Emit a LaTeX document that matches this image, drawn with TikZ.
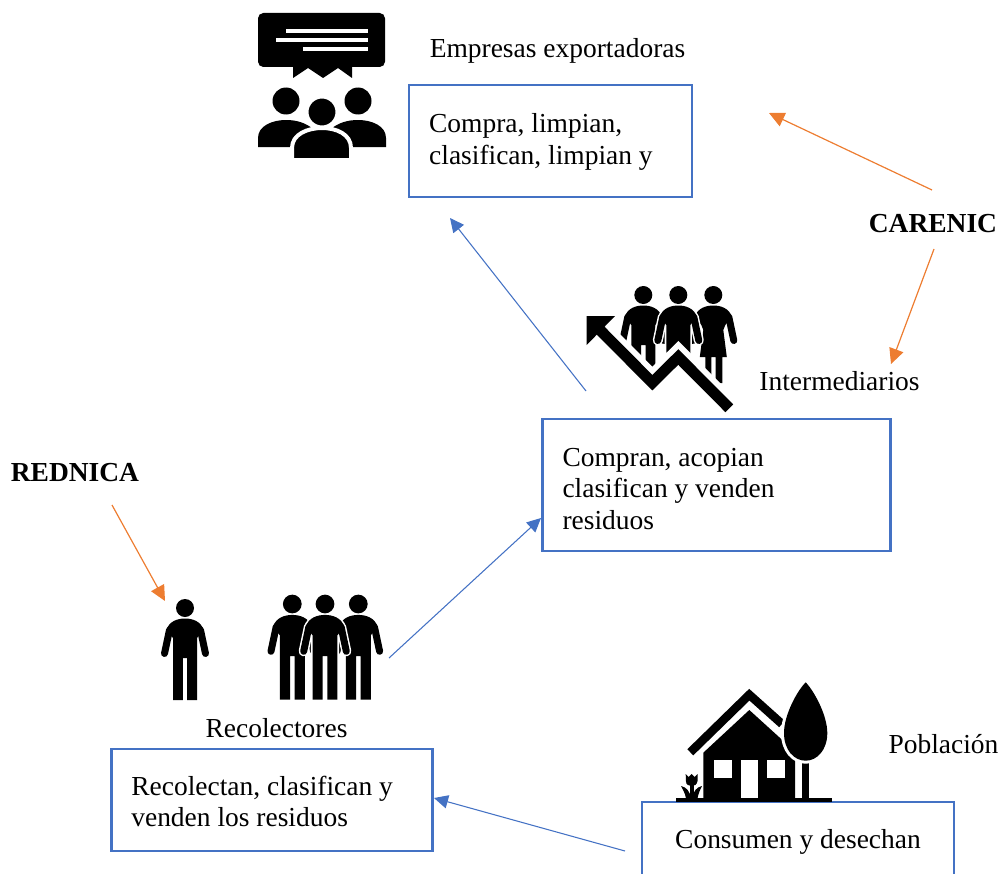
\documentclass[tikz,border=0pt]{standalone}
\usepackage{fontspec}
\setmainfont{Liberation Serif}
\usetikzlibrary{arrows.meta}
\definecolor{boxblue}{HTML}{4472C4}
\definecolor{arrorange}{HTML}{ED7D31}
\newcommand{\manbody}{(-12,92) -- (-12,30) -- (-18.5,22) .. controls (-16,13) and (-7,10.5) .. (0,10.5) .. controls (7,10.5) and (16,13) .. (18.5,22) -- (12,30) -- (12,92) -- (2.2,92) -- (2.2,50) -- (-2.2,50) -- (-2.2,92) -- cycle}
\newcommand{\manarms}{(-15.5,22) -- (-20.5,45.5) (15.5,22) -- (20.5,45.5)}
\newcommand{\womanbody}{(-8,88) -- (-8,62) -- (-13.5,62) -- (-10,35) -- (-12,30) -- (-18.5,22) .. controls (-16,13) and (-7,10.5) .. (0,10.5) .. controls (7,10.5) and (16,13) .. (18.5,22) -- (12,30) -- (10,35) -- (13.5,62) -- (9,62) -- (9,88) -- (2.3,88) -- (2.3,62) -- (-2,62) -- (-2,88) -- cycle}
\newcommand{\treecrown}{(805.7,682.3) .. controls (797,691) and (784,715) .. (784,733) .. controls (784,750) and (794,760.7) .. (805.7,760.7) .. controls (817,760.7) and (827.3,750) .. (827.3,733) .. controls (827.3,715) and (814,691) .. (805.7,682.3) -- cycle}
\newcommand{\zigzag}{(600,330) -- (652.3,382.7) -- (678.3,357) -- (729.3,408.3)}
\newcommand{\topfill}[1]{\rule{0pt}{#1pt}}
\tikzset{
  boxnode/.style={draw=boxblue,line width=1.9pt,align=flush left,inner xsep=15pt,inner ysep=0pt,font=\fontsize{20.6pt}{23.6pt}\selectfont},
  plainlabel/.style={inner sep=0pt,font=\fontsize{20.6pt}{23.6pt}\selectfont},
  boldlabel/.style={inner sep=0pt,font=\fontsize{20.6pt}{23.6pt}\selectfont\bfseries},
  bluearrow/.style={draw=boxblue,line width=0.8pt,-{Triangle[length=10.5pt,width=10pt]}},
  orangearrow/.style={draw=arrorange,line width=0.9pt,-{Triangle[length=11.5pt,width=11pt]}},
  manicon/.pic={
    \draw[white,line width=2.4pt] \manbody;
    \draw[white,line width=7.5pt,line cap=round] \manarms;
    \fill \manbody;
    \draw[line width=5.25pt,line cap=round] \manarms;
    \fill (0,0) circle (9);
  },
  womanicon/.pic={
    \fill \womanbody;
    \draw[line width=5.25pt,line cap=round] \manarms;
    \fill (0,0) circle (9);
  }
}
\begin{document}
\begin{tikzpicture}[x=0.75pt,y=-0.75pt]
  \useasboundingbox (0,0) rectangle (1003,874);

  \node[boxnode,text width=182pt,minimum height=84pt] (emp) at (550.5,141) {\topfill{15.6}Compra, limpian,\\clasifican, limpian y};
  \node[boxnode,text width=231pt,minimum height=99pt] (inter) at (716.5,485) {\topfill{19.3}Compran, acopian\\clasifican y venden\\residuos};
  \node[boxnode,text width=211pt,minimum height=76.5pt] (rec) at (272,800) {\topfill{16.4}Recolectan, clasifican y\\venden los residuos};
  \node[boxnode,text width=204pt,minimum height=55.5pt,align=flush center] (pob) at (798,839) {\topfill{18.6}Consumen y desechan};

  \node[plainlabel] (emplabel) at (557.5,51) {Empresas exportadoras};
  \node[plainlabel] (interlabel) at (839.5,381) {Intermediarios};
  \node[plainlabel] (reclabel) at (276.5,728) {Recolectores};
  \node[plainlabel] (poblabel) at (943.5,744) {Población};
  \node[boldlabel] (care) at (933,224) {CARENIC};
  \node[boldlabel] (red) at (75,473) {REDNICA};

  \coordinate (a1) at (586,391);
  \coordinate (a2) at (450,218);
  \coordinate (b1) at (389,658);
  \coordinate (b2) at (541,518);
  \coordinate (c1) at (625,851);
  \coordinate (c2) at (434,798);
  \coordinate (d1) at (932,190);
  \coordinate (d2) at (769,113);
  \coordinate (e1) at (934,249);
  \coordinate (e2) at (891,364);
  \coordinate (f1) at (112,505);
  \coordinate (f2) at (165,601);
  \draw[bluearrow] (a1) -- (a2);
  \draw[bluearrow] (b1) -- (b2);
  \draw[bluearrow] (c1) -- (c2);
  \draw[orangearrow] (d1) -- (d2);
  \draw[orangearrow] (e1) -- (e2);
  \draw[orangearrow] (f1) -- (f2);

  \fill[rounded corners=4pt] (258,13) rectangle (385,67);
  \fill (293,66) -- (293,78) -- (308,68) -- (323,78) -- (338,68) -- (352,78) -- (352,66) -- cycle;
  \fill[white] (286,29.5) rectangle (368,33);
  \fill[white] (276,38.5) rectangle (368,42);
  \fill[white] (303,47.5) rectangle (368,51);
  \fill (286,101) circle (13.5);
  \fill (358,101) circle (13.5);
  \fill (258,147) -- (258,138) .. controls (258,126) and (272,120) .. (286,120) .. controls (297,120) and (305,123) .. (312,128) -- (312,147) -- cycle;
  \fill (386,147) -- (386,138) .. controls (386,126) and (372,120) .. (358,120) .. controls (347,120) and (339,123) .. (332,128) -- (332,147) -- cycle;
  \filldraw[draw=white,line width=3pt] (322,112) circle (15.5);
  \filldraw[draw=white,line width=3pt] (292,160) -- (292,148) .. controls (292,134) and (308,128) .. (322,128) .. controls (336,128) and (351,134) .. (351,148) -- (351,160) -- cycle;

  \pic at (643.3,295) {manicon};
  \pic at (713.3,295) {womanicon};
  \pic at (678.3,295) {manicon};
  \fill[white] (600,330) -- (652.3,382.7) -- (678.3,357) -- (712,391) -- (712,400) -- (600,400) -- cycle;
  \draw[white,line width=17pt,miter limit=10] \zigzag;
  \draw[line width=8.25pt,miter limit=10] \zigzag;
  \fill (586.7,316) -- (615,316) -- (586.7,345) -- cycle;

  \pic at (185,608) {manicon};
  \pic[scale=1.04] at (292.3,604) {manicon};
  \pic[scale=1.04] at (358.3,604) {manicon};
  \pic[scale=1.04] at (325,604) {manicon};

  \fill (675.7,798.3) rectangle (832.3,802);
  \draw[line width=6.4pt,miter limit=10] (690.3,752.3) -- (749.3,694.7) -- (782,724);
  \fill (703.3,798.3) -- (703.3,752.7) -- (749.3,710) -- (790,747) -- (795,760) -- (795,798.3) -- cycle;
  \fill[white] (714.3,760) rectangle (731.7,777.7);
  \fill[white] (740.7,760) rectangle (758.3,798.3);
  \fill[white] (767.3,760) rectangle (785,777.7);
  \fill (802.3,755) rectangle (809.3,798.3);
  \draw[white,line width=4.5pt] \treecrown;
  \fill \treecrown;
  \fill (685.7,774) -- (688.7,777) -- (691.7,774) -- (694.7,777) -- (697.7,774) -- (697.5,781) .. controls (697,785) and (694,786) .. (691.7,786) .. controls (689,786) and (686,785) .. (685.9,781) -- cycle;
  \fill (690,785) rectangle (693.5,798.3);
  \fill (681,786) .. controls (686,787) and (690,791) .. (691,798.3) -- (686,798.3) .. controls (685,793) and (683,790) .. (681,786) -- cycle;
  \fill (702,786) .. controls (697,787) and (693,791) .. (692.5,798.3) -- (697.5,798.3) .. controls (698.5,793) and (700,790) .. (702,786) -- cycle;
\end{tikzpicture}
\end{document}
